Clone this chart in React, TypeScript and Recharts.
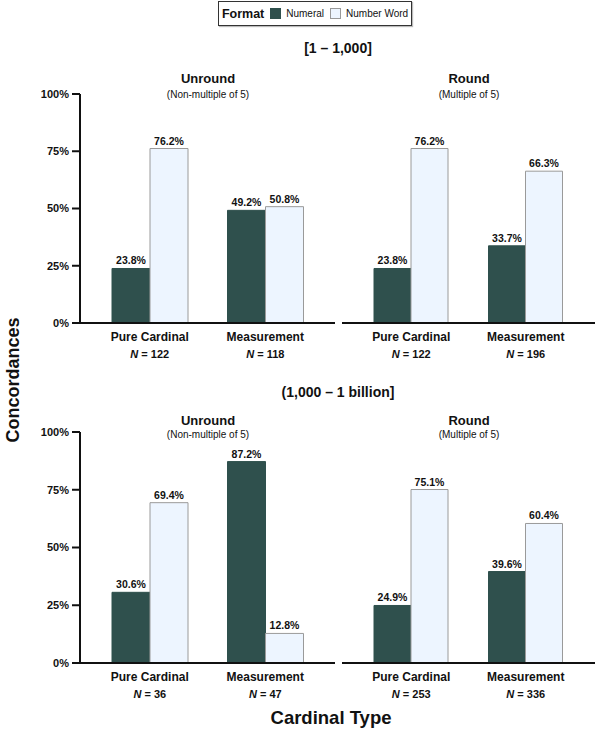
import React from 'react';
import { BarChart, Bar, XAxis, YAxis, LabelList } from 'recharts';

const categories = ['Pure Cardinal', 'Measurement'];

// [1 - 1,000]
const lowUnroundNumeral = [23.8, 49.2];
const lowUnroundWord = [76.2, 50.8];
const lowUnroundN = [122, 118];
const lowRoundNumeral = [23.8, 33.7];
const lowRoundWord = [76.2, 66.3];
const lowRoundN = [122, 196];

// (1,000 - 1 billion]
const highUnroundNumeral = [30.6, 87.2];
const highUnroundWord = [69.4, 12.8];
const highUnroundN = [36, 47];
const highRoundNumeral = [24.9, 39.6];
const highRoundWord = [75.1, 60.4];
const highRoundN = [253, 336];

const yTicks = [0, 25, 50, 75, 100];

const DARK = '#2f504d';
const LIGHT = '#edf5ff';
const FONT = '"Liberation Sans", Arial, Helvetica, sans-serif';

const makeRows = (numeral: number[], word: number[]) =>
  categories.map((c, i) => ({ name: c, numeral: numeral[i], word: word[i] }));

const CatTick = (ns: number[]) => (props: any) => {
  const { x, y, payload } = props;
  return (
    <g transform={`translate(${x},${y})`}>
      <text y={18} textAnchor="middle" fontWeight="bold" fontSize={12} fill="#111" fontFamily={FONT}>
        {payload.value}
      </text>
      <text y={35} textAnchor="middle" fontWeight="bold" fontSize={11} fill="#111" fontFamily={FONT}>
        <tspan fontStyle="italic">N</tspan> = {ns[payload.index]}
      </text>
    </g>
  );
};

type PanelProps = {
  left: number;
  top: number;
  height: number;
  numeral: number[];
  word: number[];
  ns: number[];
  showY: boolean;
};

const Panel = ({ left, top, height, numeral, word, ns, showY }: PanelProps) => {
  const width = showY ? 340 : 258;
  return (
    <div style={{ position: 'absolute', left, top }}>
      <BarChart
        width={width}
        height={height}
        data={makeRows(numeral, word)}
        margin={{ top: 34, right: 5, left: showY ? 20 : 0, bottom: 0 }}
        barCategoryGap={20}
        barGap={0}
      >
        <XAxis
          dataKey="name"
          height={47}
          tickLine={false}
          tickSize={0}
          tickMargin={0}
          axisLine={{ stroke: '#111', strokeWidth: 2 }}
          padding={{ left: 12, right: 12 }}
          tick={CatTick(ns)}
          interval={0}
        />
        <YAxis
          hide={!showY}
          width={60}
          domain={[0, 100]}
          ticks={yTicks}
          tickFormatter={(v: number) => `${v}%`}
          axisLine={{ stroke: '#111', strokeWidth: 2 }}
          tickLine={{ stroke: '#111', strokeWidth: 2 }}
          tickSize={8}
          tickMargin={3}
          tick={{ fontSize: 11, fontWeight: 'bold', fill: '#111', fontFamily: FONT }}
        />
        <Bar dataKey="numeral" fill={DARK} stroke={DARK} isAnimationActive={false}>
          <LabelList
            dataKey="numeral"
            position="top"
            offset={4}
            formatter={(v: any) => `${Number(v).toFixed(1)}%`}
            style={{ fontSize: 10.5, fontWeight: 'bold', fill: '#111', fontFamily: FONT }}
          />
        </Bar>
        <Bar dataKey="word" fill={LIGHT} stroke="#9a9a9a" isAnimationActive={false}>
          <LabelList
            dataKey="word"
            position="top"
            offset={4}
            formatter={(v: any) => `${Number(v).toFixed(1)}%`}
            style={{ fontSize: 10.5, fontWeight: 'bold', fill: '#111', fontFamily: FONT }}
          />
        </Bar>
      </BarChart>
    </div>
  );
};

const Txt = ({ x, y, size, bold, children, rotate }: any) => (
  <div
    style={{
      position: 'absolute',
      left: x,
      top: y,
      transform: `translate(-50%, -50%)${rotate ? ' rotate(-90deg)' : ''}`,
      fontSize: size,
      fontWeight: bold ? 'bold' : 'normal',
      fontFamily: FONT,
      color: '#111',
      whiteSpace: 'nowrap',
      lineHeight: 1,
    }}
  >
    {children}
  </div>
);

const Swatch = ({ color, border }: { color: string; border: string }) => (
  <span
    style={{
      display: 'inline-block',
      width: 9,
      height: 9,
      background: color,
      border: `1px solid ${border}`,
      marginRight: 5,
    }}
  />
);

export default function App() {
  return (
    <div style={{ position: 'absolute', left: 0, top: 0, width: 600, height: 731, background: '#fff', fontFamily: FONT }}>
      {/* legend */}
      <div
        style={{
          position: 'absolute',
          left: 218,
          top: 1,
          width: 194,
          height: 25,
          border: '1px solid #333',
          boxShadow: '1px 1px 1px #bbb',
          display: 'flex',
          alignItems: 'center',
          justifyContent: 'center',
          fontSize: 10,
          color: '#111',
          boxSizing: 'border-box',
        }}
      >
        <span style={{ fontWeight: 'bold', fontSize: 12.5, marginRight: 6 }}>Format</span>
        <Swatch color={DARK} border={DARK} />
        <span style={{ marginRight: 6 }}>Numeral</span>
        <Swatch color={LIGHT} border="#999" />
        <span>Number Word</span>
      </div>

      <Txt x={338} y={48} size={14} bold>[1 – 1,000]</Txt>
      <Txt x={208} y={78} size={13} bold>Unround</Txt>
      <Txt x={208} y={95} size={10}>(Non-multiple of 5)</Txt>
      <Txt x={469} y={78} size={13} bold>Round</Txt>
      <Txt x={469} y={95} size={10}>(Multiple of 5)</Txt>

      <Panel left={0} top={60} height={310} numeral={lowUnroundNumeral} word={lowUnroundWord} ns={lowUnroundN} showY />
      <Panel left={342} top={60} height={310} numeral={lowRoundNumeral} word={lowRoundWord} ns={lowRoundN} showY={false} />

      <Txt x={338} y={392} size={14} bold>(1,000 – 1 billion]</Txt>
      <Txt x={208} y={420} size={13} bold>Unround</Txt>
      <Txt x={208} y={435} size={10}>(Non-multiple of 5)</Txt>
      <Txt x={469} y={420} size={13} bold>Round</Txt>
      <Txt x={469} y={435} size={10}>(Multiple of 5)</Txt>

      <Panel left={0} top={398} height={312} numeral={highUnroundNumeral} word={highUnroundWord} ns={highUnroundN} showY />
      <Panel left={342} top={398} height={312} numeral={highRoundNumeral} word={highRoundWord} ns={highRoundN} showY={false} />

      <Txt x={13} y={380} size={18} bold rotate>Concordances</Txt>
      <Txt x={331} y={718} size={18.5} bold>Cardinal Type</Txt>
    </div>
  );
}
